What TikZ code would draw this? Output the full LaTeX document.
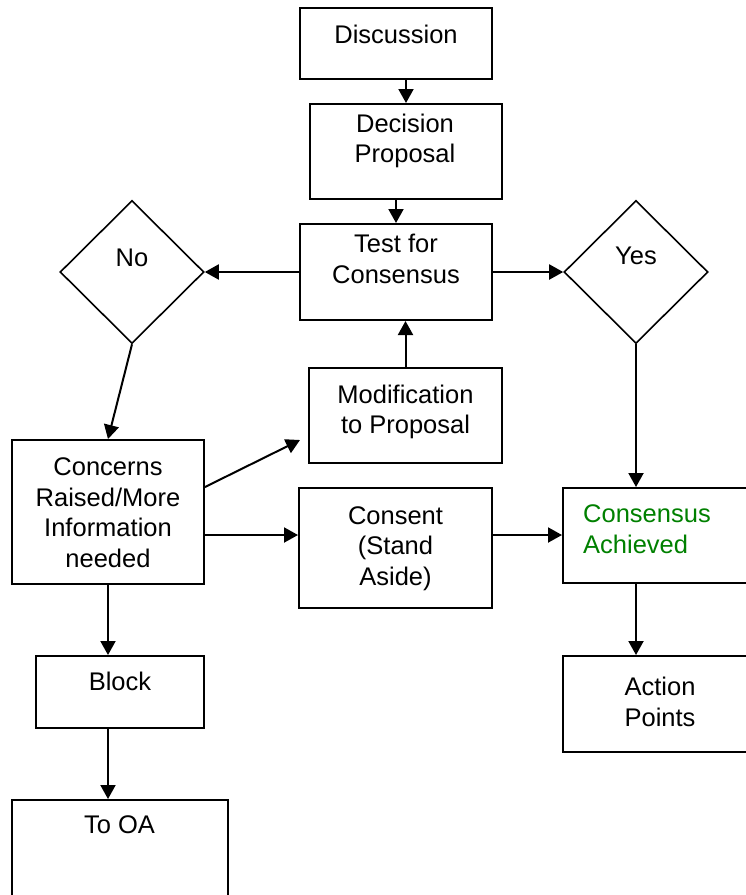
\documentclass[tikz,border=0pt]{standalone}
\usepackage{fontspec}
\setmainfont{Liberation Sans}
\usetikzlibrary{shapes.geometric,arrows.meta}
\definecolor{okgreen}{RGB}{0,128,0}
\begin{document}
\begin{tikzpicture}[x=1pt,y=-1pt,
  box/.style={draw,line width=2pt,rectangle,inner sep=0pt},
  dia/.style={draw,line width=1.6pt,diamond,aspect=1,inner sep=0pt,minimum width=144pt,minimum height=143pt},
  lbl/.style={font=\fontsize{25.5}{30.5}\selectfont,align=center,inner sep=0pt},
  arr/.style={line width=2pt,-{Triangle[length=14pt,width=15pt]}}]
\useasboundingbox (0,0) rectangle (745,895);
% boxes
\node[box,minimum width=192pt,minimum height=71pt] (disc) at (396,43.5) {};
\node[box,minimum width=192pt,minimum height=95pt] (dec) at (406,151.5) {};
\node[box,minimum width=192pt,minimum height=96pt] (test) at (396,272) {};
\node[dia] (no) at (132,272) {};
\node[dia] (yes) at (636,272) {};
\node[box,minimum width=193pt,minimum height=95pt] (mod) at (405.5,415.5) {};
\node[box,minimum width=192pt,minimum height=144pt] (con) at (108,512) {};
\node[box,minimum width=193pt,minimum height=120pt] (cs) at (395.5,548) {};
\node[box,minimum width=210pt,minimum height=95pt] (ach) at (668,535.5) {};
\node[box,minimum width=210pt,minimum height=96pt] (act) at (668,704) {};
\node[box,minimum width=168pt,minimum height=72pt] (blk) at (120,692) {};
\node[box,minimum width=216pt,minimum height=130pt] (oa) at (120,865) {};
% texts
\node[lbl] (tdisc) at (396,34) {Discussion};
\node[lbl] (tdec) at (405,140.7) {Decision\\Proposal};
\node[lbl] (ttest) at (396,259) {Test for\\Consensus};
\node[lbl] (tno) at (132,258) {No};
\node[lbl] (tyes) at (636,256) {Yes};
\node[lbl] (tmod) at (405.5,412) {Modification\\to Proposal};
\node[lbl] (tcon) at (108,512.5) {Concerns\\Raised/More\\Information\\needed};
\node[lbl] (tcs) at (395.5,548.7) {Consent\\(Stand\\Aside)};
\node[lbl,align=left,anchor=west,text=okgreen] (tach) at (583,529) {Consensus\\Achieved};
\node[lbl] (tact) at (660,701.7) {Action\\Points};
\node[lbl] (tblk) at (120,681) {Block};
\node[lbl] (toa) at (119.5,825) {To OA};
% connectors
\coordinate (modtip) at (300,440);
\coordinate (y487) at (0,487);
\coordinate (y535) at (0,535);
\draw[arr] (disc.south -| dec.north) -- (dec.north);
\draw[arr] (dec.south -| test.north) -- (test.north);
\draw[arr] (test.west) -- (no.east);
\draw[arr] (test.east) -- (yes.west);
\draw[arr] (mod.north) -- (mod.north |- test.south);
\draw[arr] (no.south) -- (con.north);
\draw[arr] (con.east |- y487) -- (modtip);
\draw[arr] (con.east |- y535) -- (cs.west |- y535);
\draw[arr] (cs.east |- y535) -- (ach.west |- y535);
\draw[arr] (yes.south) -- (yes.south |- ach.north);
\draw[arr] (yes.south |- ach.south) -- (yes.south |- act.north);
\draw[arr] (con.south) -- (con.south |- blk.north);
\draw[arr] (con.south |- blk.south) -- (con.south |- oa.north);
\end{tikzpicture}
\end{document}
